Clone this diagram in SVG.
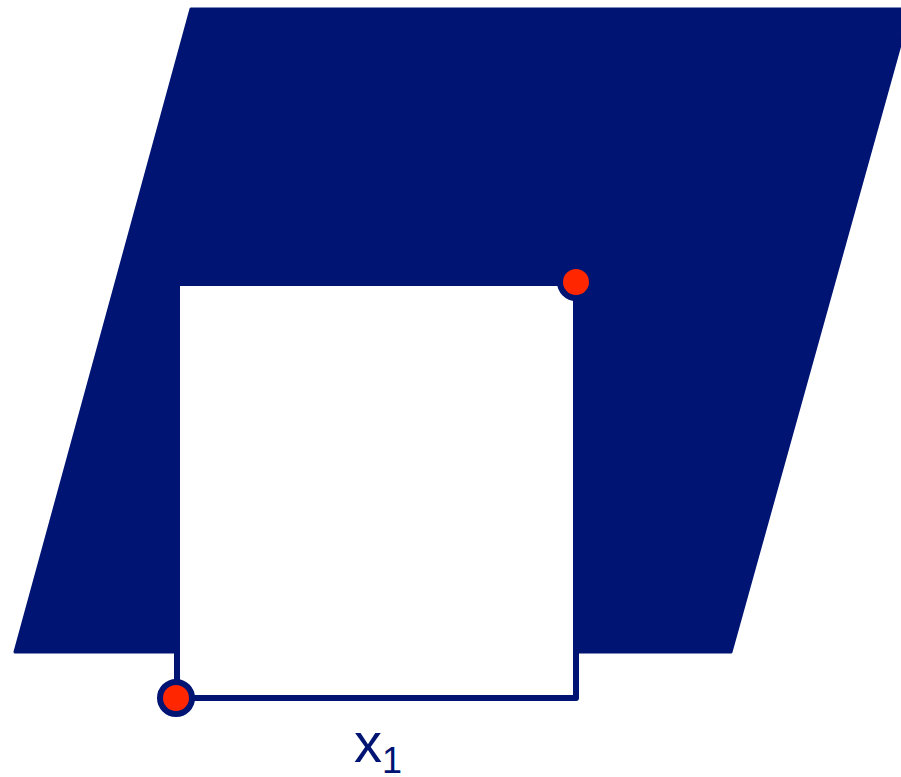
<svg xmlns="http://www.w3.org/2000/svg" width="901" height="777" viewBox="0 0 901 777">
<style>
.navy{fill:#001473;stroke:#001473;}
.dot{fill:#ff2600;stroke:#001473;stroke-width:6;}
.lbl{font-family:"Liberation Sans",Arial,Helvetica,sans-serif;fill:#001473;}
</style>
<rect width="901" height="777" fill="#ffffff"/>
<g id="parallelogram">
<polygon class="navy" stroke-width="3" stroke-linejoin="round" points="191,9 910,9 731,652 15,652"/>
</g>
<g id="square">
<rect x="177" y="283" width="399" height="415" fill="#ffffff" stroke="#001473" stroke-width="6" stroke-linejoin="round"/>
</g>
<g id="point-top">
<circle class="dot" cx="576" cy="282" r="16"/>
</g>
<g id="point-bottom">
<circle class="dot" cx="176" cy="698" r="16"/>
</g>
<g id="label">
<text class="lbl" x="354" y="762" font-size="56">x<tspan font-size="36" dy="11">1</tspan></text>
</g>
</svg>
